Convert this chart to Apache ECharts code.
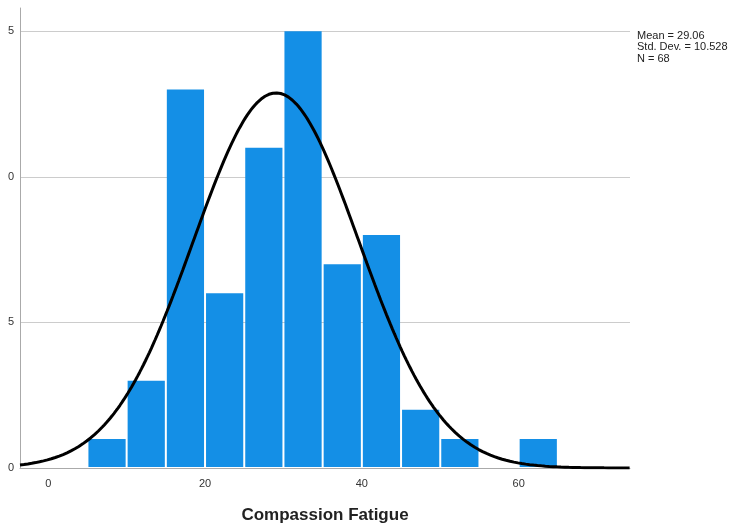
<!DOCTYPE html>
<html>
<head>
<meta charset="utf-8">
<script src="https://cdn.jsdelivr.net/npm/echarts@6/dist/echarts.min.js"></script>
<style>
  html, body { margin: 0; padding: 0; background: #fff; }
  #chart { width: 731px; height: 524px; }
</style>
</head>
<body>
<div id="chart"></div>
<script>
// Histogram bins (lower edge, width 5) and counts
const binStarts = [5, 10, 15, 20, 25, 30, 35, 40, 45, 50, 55, 60];
const binCounts = [1, 3, 13, 6, 11, 15, 7, 8, 2, 1, 0, 1];
const binWidth = 5;

// Summary statistics shown beside the chart
const mean = 29.06;
const stdDev = 10.528;
const total = 68;
const statLines = ['Mean = 29.06', 'Std. Dev. = 10.528', 'N = 68'];

// Axis ticks
const xTicks = [0, 20, 40, 60];
const yTicks = [0, 5, 10, 15];
const xRange = [-3.6, 74.2];
const yRange = [0, 15.8];

// Fitted normal curve scaled to the histogram counts
const curve = [];
for (let x = xRange[0]; x <= xRange[1] + 1e-9; x += 0.25) {
  const z = (x - mean) / stdDev;
  const y = total * binWidth / (stdDev * Math.sqrt(2 * Math.PI)) * Math.exp(-0.5 * z * z);
  curve.push([x, y]);
}

const barData = binStarts.map((s, i) => [s, s + binWidth, binCounts[i]]).filter(d => d[2] > 0);

const chart = echarts.init(document.getElementById('chart'), null, { renderer: 'canvas' });
chart.setOption({
  animation: false,
  backgroundColor: '#ffffff',
  grid: { left: 20, right: 101, top: 8, bottom: 56, containLabel: false, outerBoundsMode: 'none' },
  xAxis: {
    type: 'value',
    min: xRange[0],
    max: xRange[1],
    axisLine: { show: true, onZero: false, lineStyle: { color: '#aaaaaa', width: 1 } },
    axisTick: { show: false, customValues: xTicks },
    splitLine: { show: false },
    axisLabel: {
      customValues: xTicks,
      color: '#333333',
      fontFamily: 'Liberation Sans, Arial, sans-serif',
      fontSize: 11,
      margin: 10
    },
    name: 'Compassion Fatigue',
    nameLocation: 'middle',
    nameGap: 39,
    nameTextStyle: {
      color: '#222222',
      fontFamily: 'Liberation Sans, Arial, sans-serif',
      fontSize: 17,
      fontWeight: 'bold'
    }
  },
  yAxis: {
    type: 'value',
    min: yRange[0],
    max: yRange[1],
    axisLine: { show: true, onZero: false, lineStyle: { color: '#aaaaaa', width: 1 } },
    axisTick: { show: false, customValues: yTicks },
    splitLine: { show: true, lineStyle: { color: '#cccccc', width: 1 } },
    axisLabel: {
      customValues: yTicks,
      color: '#333333',
      fontFamily: 'Liberation Sans, Arial, sans-serif',
      fontSize: 11,
      margin: 6,
      // tick labels are clipped at the left edge, leaving only the last digit
      formatter: v => String(v).slice(-1)
    }
  },
  graphic: [{
    type: 'text',
    left: 637,
    top: 30,
    style: {
      text: statLines.join('\n'),
      fill: '#222222',
      font: '11px "Liberation Sans", Arial, sans-serif',
      lineHeight: 11.5
    }
  }],
  series: [
    {
      type: 'custom',
      data: barData,
      renderItem: (params, api) => {
        const p0 = api.coord([api.value(0), api.value(2)]);
        const p1 = api.coord([api.value(1), 0]);
        // leave a thin white gap between adjacent bins
        return {
          type: 'rect',
          shape: { x: p0[0] + 1, y: p0[1], width: p1[0] - p0[0] - 2, height: p1[1] - p0[1] - 1 },
          style: { fill: '#148fe6' }
        };
      },
      encode: { x: [0, 1], y: 2 },
      z: 2
    },
    {
      type: 'line',
      data: curve,
      showSymbol: false,
      smooth: false,
      lineStyle: { color: '#000000', width: 3 },
      z: 3
    }
  ]
});
</script>
</body>
</html>
